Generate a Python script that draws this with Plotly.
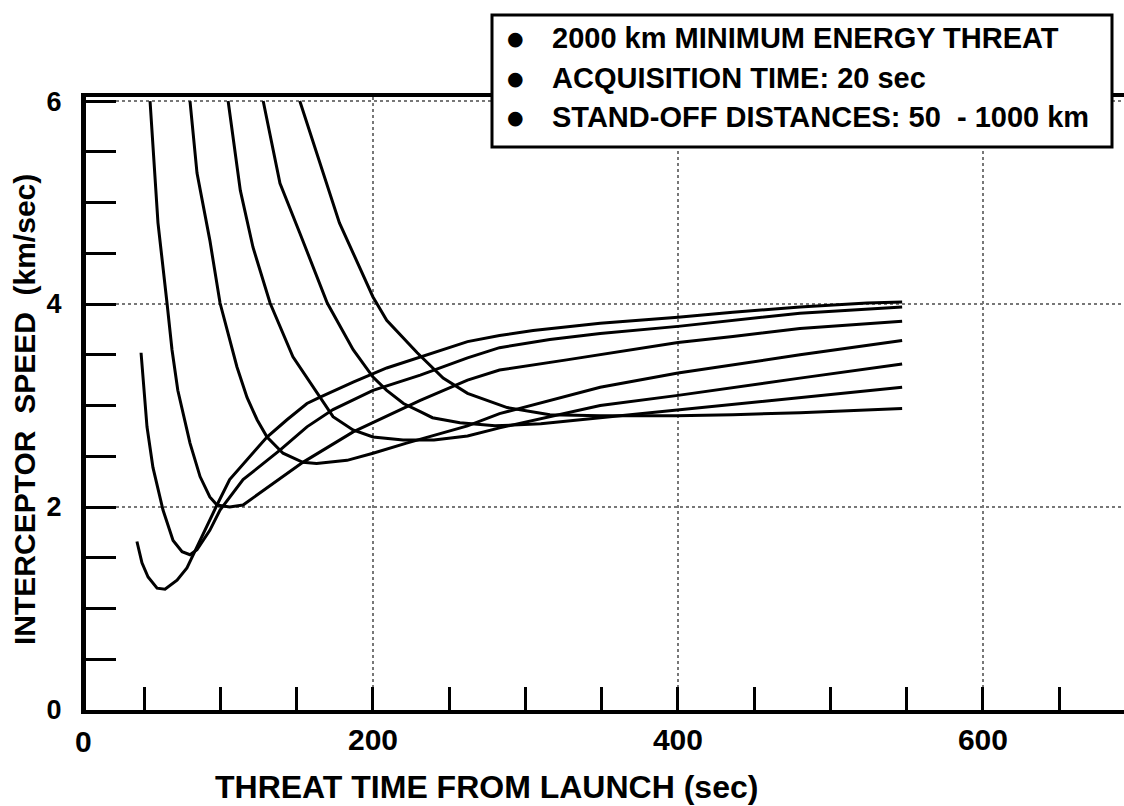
import plotly.graph_objects as go

# Threat time from launch (sec) and interceptor speed (km/sec) for each stand-off distance
t_50 = [45.2, 48.5, 52.5, 58.4, 63.6, 71.5, 78, 84.6, 91.1, 97.7, 106, 117, 130.5, 143.6, 156.7,
        165, 187, 209, 231, 262, 283, 305, 349, 400, 436, 480, 524, 547]
v_50 = [1.66, 1.45, 1.31, 1.20, 1.19, 1.28, 1.40, 1.61, 1.80, 2.02, 2.27, 2.46, 2.69, 2.86, 3.02,
        3.08, 3.23, 3.37, 3.48, 3.63, 3.69, 3.74, 3.81, 3.87, 3.92, 3.97, 4.01, 4.02]

t_2 = [47.9, 51.8, 55.7, 62.3, 68.9, 74.8, 80, 84.6, 93, 99.7, 114.8, 139, 156.7, 173.8, 200,
       231, 262, 283, 316, 349, 400, 436, 480, 547]
v_2 = [3.52, 2.79, 2.39, 1.97, 1.67, 1.56, 1.53, 1.58, 1.77, 1.97, 2.27, 2.56, 2.79, 2.96, 3.15,
       3.30, 3.47, 3.57, 3.65, 3.71, 3.78, 3.84, 3.91, 3.97]

t_3 = [53.8, 59, 65, 68.2, 72, 80, 86.6, 93, 97.7, 106, 114.8, 124, 132.5, 154, 187, 200, 231,
       262, 283, 327, 370, 400, 436, 480, 547]
v_3 = [6.0, 4.80, 4.0, 3.55, 3.15, 2.63, 2.30, 2.10, 2.02, 2.0, 2.02, 2.12, 2.21, 2.44, 2.74, 2.83,
       3.05, 3.25, 3.35, 3.45, 3.55, 3.62, 3.68, 3.76, 3.83]

t_4 = [80, 84.6, 93, 99.7, 110.8, 117.4, 124, 130.5, 141, 154, 163, 183, 200, 222, 262, 283,
       349, 400, 480, 547]
v_4 = [6.0, 5.29, 4.63, 4.01, 3.38, 3.08, 2.86, 2.69, 2.53, 2.44, 2.43, 2.46, 2.53, 2.63, 2.80,
       2.92, 3.18, 3.32, 3.50, 3.64]

t_5 = [105, 113, 121.3, 132.5, 147.5, 163.3, 173.8, 186.9, 200, 219.7, 240, 262, 283, 349, 400,
       480, 547]
v_5 = [6.0, 5.12, 4.56, 4.01, 3.48, 3.12, 2.89, 2.76, 2.69, 2.66, 2.66, 2.70, 2.78, 3.0, 3.10,
       3.27, 3.41]

t_6 = [128, 139, 152, 170, 187, 200, 209, 220, 231, 239, 257, 280, 310, 349, 400, 480, 547]
v_6 = [6.0, 5.19, 4.70, 4.01, 3.55, 3.28, 3.15, 3.02, 2.94, 2.88, 2.83, 2.80, 2.82, 2.88, 2.96,
       3.08, 3.18]

t_1000 = [152, 165, 178, 200, 209, 229, 246, 262, 288, 316, 349, 399, 436, 480, 547]
v_1000 = [6.0, 5.39, 4.80, 4.07, 3.84, 3.52, 3.27, 3.12, 2.98, 2.91, 2.90, 2.90, 2.91, 2.93, 2.97]

curves = [(t_50, v_50), (t_2, v_2), (t_3, v_3), (t_4, v_4), (t_5, v_5), (t_6, v_6), (t_1000, v_1000)]

x_major = [200, 400, 600]
x_minor = [50, 100, 150, 250, 300, 350, 450, 500, 550, 650]
y_major = [0, 2, 4, 6]

notes = [
    "2000 km MINIMUM ENERGY THREAT",
    "ACQUISITION TIME: 20 sec",
    "STAND-OFF DISTANCES: 50\u00a0\u00a0- 1000 km",
]

FONT = "Liberation Sans, Arial, Helvetica, sans-serif"

fig = go.Figure()
for t, v in curves:
    fig.add_trace(go.Scatter(x=t, y=v, mode="lines",
                             line=dict(color="black", width=3), showlegend=False,
                             hoverinfo="skip"))

W, H = 1124, 806
ML, MR, MT, MB = 86, 0, 97, 96
PW, PH = W - ML - MR, H - MT - MB


def px(x):
    return (x - ML) / PW


def py(y):
    return (H - MB - y) / PH


fig.update_layout(
    width=W, height=H,
    margin=dict(l=ML, r=MR, t=MT, b=MB),
    paper_bgcolor="white", plot_bgcolor="white",
    showlegend=False,
    font=dict(family=FONT, color="black"),
)

fig.update_xaxes(
    range=[11.8, 692.5],
    tickmode="array", tickvals=x_major, ticktext=[str(v) for v in x_major],
    ticks="inside", ticklen=23, tickwidth=3, tickcolor="black",
    tickfont=dict(size=30, family=FONT, weight="bold"),
    ticklabelstandoff=0,
    showline=True, linewidth=4, linecolor="black", mirror=True,
    showgrid=True, gridcolor="#777777", gridwidth=2, griddash="dot",
    zeroline=False,
    minor=dict(tickmode="array", tickvals=x_minor, ticks="inside", ticklen=23,
               tickwidth=3, tickcolor="black", showgrid=False),
)

fig.update_yaxes(
    range=[0, 6.04],
    tickmode="array", tickvals=y_major, ticktext=[str(v) for v in y_major],
    ticks="inside", ticklen=30, tickwidth=3, tickcolor="black",
    tickfont=dict(size=27, family=FONT, weight="bold"),
    ticklabelstandoff=14,
    showline=True, linewidth=5, linecolor="black",
    showgrid=True, gridcolor="#777777", gridwidth=2, griddash="dot",
    zeroline=False,
    minor=dict(dtick=0.5, tick0=0, ticks="inside", ticklen=30, tickwidth=3,
               tickcolor="black", showgrid=False),
)

# origin label
fig.add_annotation(xref="paper", yref="paper", x=px(83), y=py(741), text="<b>0</b>",
                   showarrow=False, font=dict(size=30, family=FONT), xanchor="center",
                   yanchor="middle")

# axis titles
fig.add_annotation(xref="paper", yref="paper", x=px(486), y=py(806),
                   text="<b>THREAT TIME FROM LAUNCH (sec)</b>", showarrow=False,
                   font=dict(size=32, family=FONT), xanchor="center", yanchor="bottom",
                   borderpad=0)
fig.add_annotation(xref="paper", yref="paper", x=px(25), y=py(410),
                   text="<b>INTERCEPTOR\u00a0 SPEED\u00a0\u00a0(km/sec)</b>", showarrow=False,
                   textangle=-90, font=dict(size=30, family=FONT),
                   xanchor="center", yanchor="middle")

# note box
fig.add_shape(type="rect", xref="paper", yref="paper",
              x0=px(492), x1=px(1112), y0=py(147), y1=py(15),
              line=dict(color="black", width=3), fillcolor="white", layer="above")
for i, txt in enumerate(notes):
    yc = [38, 78, 117][i]
    fig.add_annotation(xref="paper", yref="paper", x=px(515), y=py(yc), text="\u25CF",
                       showarrow=False, font=dict(size=19, family="DejaVu Sans"),
                       xanchor="center", yanchor="middle")
    fig.add_annotation(xref="paper", yref="paper", x=px(550), y=py(yc),
                       text="<b>" + txt + "</b>", showarrow=False,
                       font=dict(size=29, family=FONT), xanchor="left", yanchor="middle")

fig.write_html("out.html", config={"displayModeBar": False})
